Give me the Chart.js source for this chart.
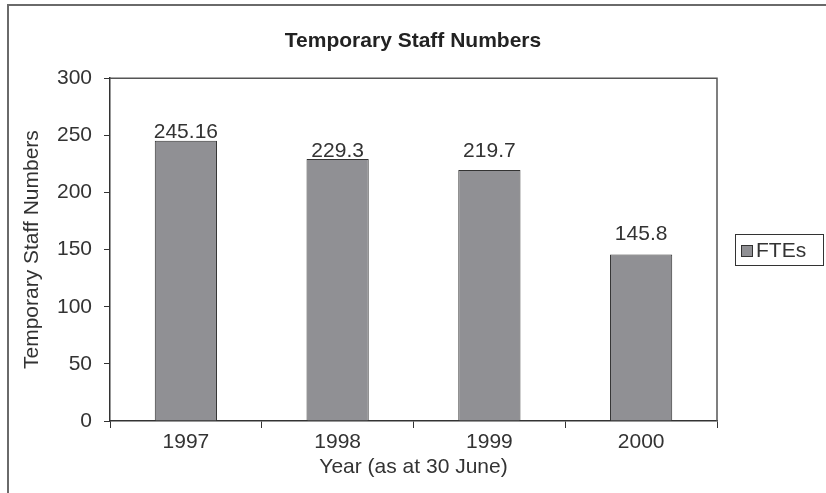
<!DOCTYPE html>
<html>
<head>
<meta charset="utf-8">
<script src="https://cdn.jsdelivr.net/npm/chart.js@4"></script>
<style>
    html, body { margin: 0; padding: 0; background: #fff; }
    #wrap { width: 826px; height: 493px; }
</style>
</head>
<body>
<div id="wrap"><canvas id="chart" width="826" height="493"></canvas></div>
<script>
const YEARS = ['1997', '1998', '1999', '2000'];
const FTES = [245.16, 229.3, 219.7, 145.8];
const VALUE_LABELS = ['245.16', '229.3', '219.7', '145.8'];

const INK = '#333333';
const FONT = "'Liberation Sans', Arial, sans-serif";
const TXT = 21;

// marco exterior + borde gris arriba/derecha del área de trazado
const framePlugin = {
    id: 'frame',
    beforeDraw(chart) {
        const ctx = chart.ctx;
        ctx.save();
        ctx.fillStyle = '#fff';
        ctx.fillRect(0, 0, chart.width, chart.height);
        ctx.strokeStyle = '#6a6a6a';
        ctx.lineWidth = 2;
        ctx.beginPath();
        ctx.moveTo(8, chart.height);
        ctx.lineTo(8, 5);
        ctx.lineTo(chart.width, 5);
        ctx.stroke();
        ctx.restore();
    },
    beforeDatasetsDraw(chart) {
        const { ctx, chartArea: a } = chart;
        ctx.save();
        ctx.strokeStyle = '#555';
        ctx.lineWidth = 1.5;
        ctx.beginPath();
        ctx.moveTo(a.left, a.top);
        ctx.lineTo(a.right, a.top);
        ctx.lineTo(a.right, a.bottom);
        ctx.stroke();
        ctx.restore();
    }
};

// etiquetas de valor encima de cada barra (desplazamientos como en el original)
const valueLabels = {
    id: 'valueLabels',
    afterDatasetsDraw(chart, args, opts) {
        const ctx = chart.ctx;
        const meta = chart.getDatasetMeta(0);
        const gaps = opts.gaps || [];
        ctx.save();
        ctx.fillStyle = INK;
        ctx.font = TXT + 'px ' + FONT;
        ctx.textAlign = 'center';
        ctx.textBaseline = 'alphabetic';
        meta.data.forEach((bar, i) => {
            ctx.fillText(VALUE_LABELS[i], bar.x, bar.y - (gaps[i] || 3));
        });
        ctx.restore();
    }
};

// leyenda con recuadro a la derecha
const boxLegend = {
    id: 'boxLegend',
    afterDraw(chart) {
        const ctx = chart.ctx;
        const ds = chart.data.datasets[0];
        ctx.save();
        ctx.strokeStyle = INK;
        ctx.lineWidth = 1;
        ctx.strokeRect(735.5, 234.5, 88, 31);
        ctx.fillStyle = ds.backgroundColor;
        ctx.fillRect(741.5, 245.5, 11, 11);
        ctx.strokeRect(741.5, 245.5, 11, 11);
        ctx.fillStyle = INK;
        ctx.font = TXT + 'px ' + FONT;
        ctx.textAlign = 'left';
        ctx.textBaseline = 'middle';
        ctx.fillText(ds.label, 756, 251);
        ctx.restore();
    }
};

new Chart(document.getElementById('chart'), {
    type: 'bar',
    data: {
        labels: YEARS,
        datasets: [{
            label: 'FTEs',
            data: FTES,
            backgroundColor: '#909094',
            borderColor: INK,
            borderWidth: 1,
            categoryPercentage: 1,
            barPercentage: 0.41,
        }]
    },
    options: {
        responsive: false,
        animation: false,
        layout: { padding: 0 },
        plugins: {
            legend: { display: false },
            tooltip: { enabled: false },
            valueLabels: { gaps: [3, 2, 13, 14] },
            title: {
                display: true,
                text: 'Temporary Staff Numbers',
                color: '#222',
                font: { family: FONT, size: 21, weight: 'bold' },
                padding: { top: 29, bottom: 24 },
            }
        },
        scales: {
            y: {
                min: 0,
                max: 300,
                afterFit: (s) => { s.width = 110; },
                ticks: { stepSize: 50, color: INK, padding: 12, font: { family: FONT, size: TXT } },
                grid: { drawOnChartArea: false, drawTicks: true, tickLength: 6, color: INK },
                border: { display: true, color: INK, width: 1.5 },
                title: {
                    display: true,
                    text: 'Temporary Staff Numbers',
                    color: INK,
                    font: { family: FONT, size: TXT },
                    padding: { top: 20, bottom: 0 },
                }
            },
            // eje vacío a la derecha: deja sitio para la leyenda
            side: {
                position: 'right',
                min: 0,
                max: 300,
                afterFit: (s) => { s.width = 109; },
                ticks: { display: false },
                grid: { display: false },
                border: { display: false },
            },
            x: {
                afterFit: (s) => { s.height = 72; },
                ticks: { color: INK, padding: 2, font: { family: FONT, size: TXT } },
                grid: { drawOnChartArea: false, drawTicks: true, tickLength: 7, color: INK, offset: true },
                border: { display: true, color: INK, width: 1.5 },
                title: {
                    display: true,
                    text: 'Year (as at 30 June)',
                    color: INK,
                    font: { family: FONT, size: TXT },
                    padding: { top: 0, bottom: 13 },
                }
            }
        }
    },
    plugins: [framePlugin, valueLabels, boxLegend]
});
</script>
</body>
</html>
